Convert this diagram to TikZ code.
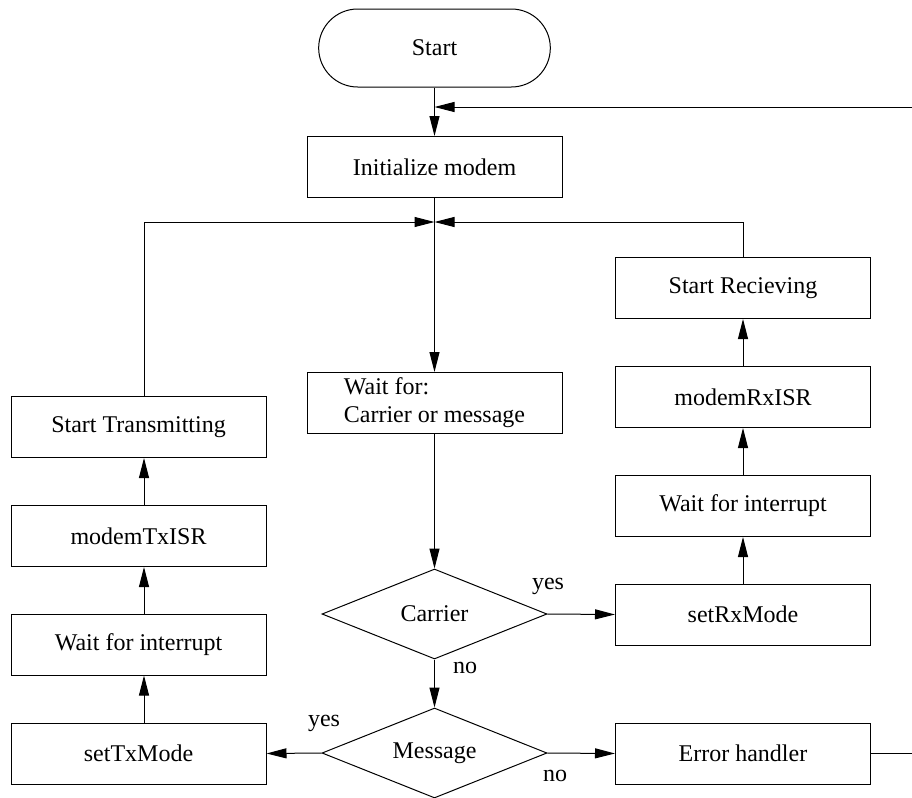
\documentclass[tikz,border=0pt]{standalone}
\usepackage{fontspec}
\setmainfont{Liberation Serif}
\usetikzlibrary{arrows.meta, positioning, shapes.geometric, shapes.misc}

\begin{document}
\begin{tikzpicture}[x=0.5pt, y=-0.5pt, line width=0.5pt,
        font=\fontsize{12}{14}\selectfont,
        block/.style={draw, rectangle, minimum width=127.5pt, minimum height=30.5pt, inner sep=2pt},
        term/.style={draw, rounded rectangle, minimum width=122.5pt, minimum height=39pt},
        decide/.style={draw, diamond, aspect=2.5, minimum width=112.5pt, minimum height=45pt, inner sep=0pt},
        flow/.style={-{Triangle[length=10pt, width=5pt]}}]
        \useasboundingbox (0,0) rectangle (912,798);
        % middle column
        \node[term] (start) at (434.5, 48) {Start};
        \node[block] (init) at (434.5, 167) {Initialize modem};
        \node[block, align=left] (wait) at (434.5, 403) {Wait for:\\Carrier or message};
        \node[decide] (carrier) at (434.5, 614) {Carrier};
        \node[decide] (message) at (434.5, 753) {Message};
        % receive side
        \node[block] (setrx) at (743, 614.5) {setRxMode};
        \node[block] (waitrx) at (743, 506) {Wait for interrupt};
        \node[block] (rxisr) at (743, 397) {modemRxISR};
        \node[block] (startrx) at (743, 288) {Start Recieving};
        \node[block] (errh) at (743, 753.5) {Error handler};
        % transmit side
        \node[block] (settx) at (138.5, 753.5) {setTxMode};
        \node[block] (waittx) at (138.5, 644.5) {Wait for interrupt};
        \node[block] (txisr) at (138.5, 536) {modemTxISR};
        \node[block] (starttx) at (138.5, 427) {Start Transmitting};
        % branch labels
        \node (yesrx) at (548, 586) {yes};
        \node (nocar) at (465, 668) {no};
        \node (yestx) at (324, 723) {yes};
        \node (nomsg) at (555, 776) {no};
        % helper points
        \coordinate (tx) at (144, 0);
        \coordinate (loop) at (0, 107);
        \coordinate (merge) at (0, 222);
        \coordinate (edge) at (916, 0);

        \draw[flow] (start.south) -- (init.north);
        \draw[flow] (init.south) -- (wait.north);
        \draw[flow] (wait.south) -- (carrier.north);
        \draw[flow] (carrier.south) -- (message.north);
        \draw[flow] (carrier.east) -- (setrx.west);
        \draw[flow] (message.east) -- (errh.west);
        \draw[flow] (message.west) -- (settx.east);

        \draw[flow] (setrx.north) -- (waitrx.south);
        \draw[flow] (waitrx.north) -- (rxisr.south);
        \draw[flow] (rxisr.north) -- (startrx.south);
        \draw[flow] (startrx.north) -- (startrx.north |- merge) -- (init.south |- merge);

        \draw[flow] (settx.north -| tx) -- (waittx.south -| tx);
        \draw[flow] (waittx.north -| tx) -- (txisr.south -| tx);
        \draw[flow] (txisr.north -| tx) -- (starttx.south -| tx);
        \draw[flow] (starttx.north -| tx) -- (tx |- merge) -- (init.south |- merge);

        \draw[flow] (errh.east) -- (errh.east -| edge) -- (edge |- loop) -- (start.south |- loop);
\end{tikzpicture}
\end{document}
